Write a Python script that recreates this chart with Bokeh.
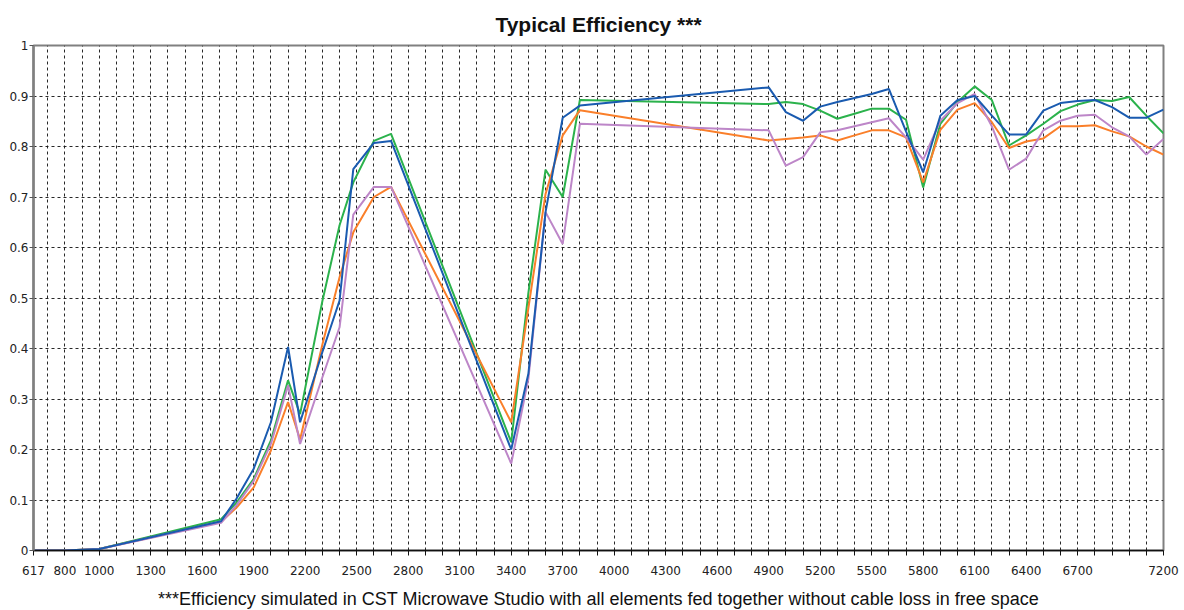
from bokeh.plotting import figure
from bokeh.models import FixedTicker, Range1d, Title
from bokeh.embed import file_html
from bokeh.resources import INLINE

freqs = [617, 800, 1000, 1710, 1800, 1900, 2000, 2100, 2170, 2300, 2400, 2480, 2600, 2700,
         3400, 3500, 3600, 3700, 3800, 4900, 5000, 5100, 5200, 5300, 5400, 5500, 5600, 5700,
         5800, 5900, 6000, 6100, 6200, 6300, 6400, 6500, 6600, 6700, 6800, 6900, 7000, 7100, 7200]

blue = [0, 0, 0.003, 0.058, 0.103, 0.162, 0.254, 0.403, 0.254, 0.393, 0.495, 0.755, 0.807, 0.811,
        0.2, 0.35, 0.67, 0.857, 0.881, 0.917, 0.868, 0.851, 0.879, 0.888, 0.896, 0.904, 0.914, 0.83,
        0.749, 0.861, 0.892, 0.9, 0.861, 0.824, 0.824, 0.871, 0.886, 0.89, 0.892, 0.878, 0.857, 0.857, 0.873]
green = [0, 0, 0.003, 0.062, 0.095, 0.142, 0.218, 0.337, 0.27, 0.494, 0.644, 0.729, 0.811, 0.825,
         0.2145, 0.51, 0.754, 0.70, 0.892, 0.884, 0.888, 0.884, 0.871, 0.855, 0.865, 0.875, 0.875, 0.853,
         0.719, 0.845, 0.888, 0.919, 0.892, 0.802, 0.822, 0.845, 0.87, 0.883, 0.892, 0.89, 0.898, 0.861, 0.826]
orange = [0, 0, 0.003, 0.057, 0.085, 0.125, 0.198, 0.294, 0.22, 0.408, 0.541, 0.63, 0.70, 0.72,
          0.254, 0.48, 0.706, 0.822, 0.872, 0.812, 0.815, 0.818, 0.822, 0.812, 0.822, 0.832, 0.832, 0.818,
          0.729, 0.833, 0.873, 0.886, 0.848, 0.797, 0.81, 0.816, 0.84, 0.84, 0.842, 0.83, 0.82, 0.80, 0.784]
purple = [0, 0, 0.003, 0.055, 0.09, 0.138, 0.211, 0.327, 0.211, 0.343, 0.442, 0.665, 0.72, 0.72,
          0.172, 0.34, 0.67, 0.607, 0.845, 0.832, 0.762, 0.779, 0.828, 0.832, 0.84, 0.848, 0.856, 0.818,
          0.774, 0.851, 0.886, 0.904, 0.84, 0.754, 0.776, 0.832, 0.851, 0.861, 0.863, 0.838, 0.82, 0.784, 0.815]

x_labels = [617, 800, 1000, 1300, 1600, 1900, 2200, 2500, 2800, 3100, 3400, 3700, 4000, 4300,
            4600, 4900, 5200, 5500, 5800, 6100, 6400, 6700, 7200]
x_grid = list(range(700, 7200, 100))
y_ticks = [round(i * 0.1, 1) for i in range(11)]

title_text = "Typical Efficiency ***"
caption_text = ("***Efficiency simulated in CST Microwave Studio with all elements fed together "
                "without cable loss in free space")

p = figure(frame_width=1130, frame_height=505, output_backend="svg", toolbar_location=None,
           x_range=Range1d(617, 7200), y_range=Range1d(0, 1),
           min_border_left=33, min_border_right=21, min_border_top=45, min_border_bottom=55)
p.background_fill_color = "white"
p.border_fill_color = "white"
p.outline_line_color = "#808080"
p.outline_line_width = 2

p.add_layout(Title(text=title_text, align="center", text_font="Liberation Sans",
                   text_font_size="21px", text_font_style="bold", text_color="#111111",
                   standoff=20), "above")
p.add_layout(Title(text=caption_text, align="center", text_font="Liberation Sans",
                   text_font_size="18px", text_font_style="normal", text_color="#111111",
                   standoff=19), "below")

# x axis
x_ticks = [617] + x_grid + [7200]
p.xaxis.ticker = FixedTicker(ticks=x_ticks)
p.xaxis.major_label_overrides = {t: (str(t) if t in x_labels else "") for t in x_ticks}
p.xaxis.major_tick_out = 5
p.xaxis.major_tick_in = 0
p.xaxis.minor_tick_line_color = None
p.xaxis.axis_line_color = "#111111"
p.xaxis.axis_line_width = 1.5
p.xaxis.major_tick_line_color = "#111111"
p.xaxis.major_label_text_font = "DejaVu Sans"
p.xaxis.major_label_text_font_size = "12px"
p.xaxis.major_label_text_color = "#222222"
p.xaxis.major_label_standoff = 10

# y axis
p.yaxis.ticker = FixedTicker(ticks=y_ticks)
p.yaxis.major_label_overrides = {t: ("0" if t == 0 else "1" if t == 1 else f"{t:.1f}") for t in y_ticks}
p.yaxis.major_tick_out = 4
p.yaxis.major_tick_in = 0
p.yaxis.minor_tick_line_color = None
p.yaxis.axis_line_color = "#808080"
p.yaxis.axis_line_width = 2.5
p.yaxis.major_tick_line_color = "#555555"
p.yaxis.major_label_text_font = "DejaVu Sans"
p.yaxis.major_label_text_font_size = "12px"
p.yaxis.major_label_text_color = "#222222"
p.yaxis.major_label_standoff = 1

# grids
p.xgrid.ticker = FixedTicker(ticks=x_grid)
p.ygrid.ticker = FixedTicker(ticks=y_ticks[1:-1])
for g in (p.xgrid, p.ygrid):
    g.grid_line_color = "#111111"
    g.grid_line_width = 1
    g.grid_line_dash = "3 3"
    g.grid_line_alpha = 0.9

p.line(freqs, green, line_color="#2bb24c", line_width=2)
p.line(freqs, orange, line_color="#fa7f2a", line_width=2)
p.line(freqs, purple, line_color="#bd86c8", line_width=2)
p.line(freqs, blue, line_color="#1a5bb0", line_width=2)

open("out.html", "w").write(file_html(p, INLINE))
